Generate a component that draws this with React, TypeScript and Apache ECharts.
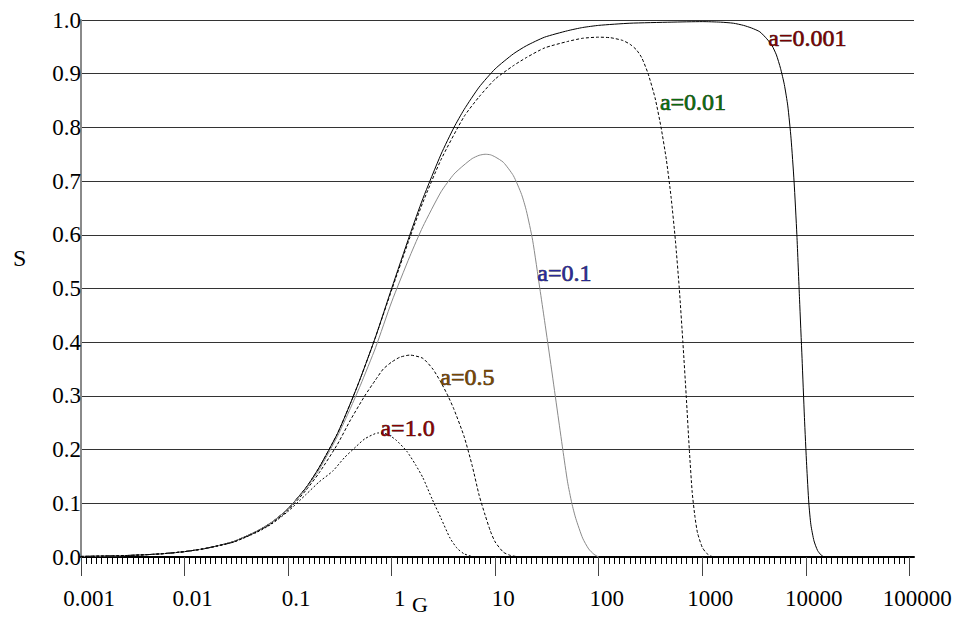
import React, { useEffect, useRef } from 'react';
import * as echarts from 'echarts';

// ---- data ----
const xTickLabels = ['0.001', '0.01', '0.1', '1', '10', '100', '1000', '10000', '100000'];

const seriesNames = ['a=0.001', 'a=0.01', 'a=0.1', 'a=0.5', 'a=1.0'];

const G1 = [0.001, 0.002, 0.003, 0.005, 0.007, 0.01, 0.015, 0.02, 0.03, 0.05, 0.07, 0.1, 0.15, 0.2, 0.3, 0.4, 0.5, 0.7, 1, 1.5, 2, 3, 4, 5, 7, 10, 15, 20, 30, 50, 70, 100, 200, 500, 1000, 1500, 2000, 2500, 3000, 3600, 4200, 4700, 5200, 5700, 6200, 6700, 7200, 7700, 8200, 8700, 9200, 9700, 10200, 10700, 11200, 12000, 13000, 14000, 15000];
const S1 = [0.001, 0.002, 0.003, 0.005, 0.007, 0.01, 0.015, 0.02, 0.029, 0.048, 0.065, 0.09, 0.13, 0.167, 0.23, 0.286, 0.333, 0.41, 0.5, 0.6, 0.667, 0.75, 0.8, 0.833, 0.875, 0.909, 0.937, 0.952, 0.968, 0.98, 0.986, 0.99, 0.994, 0.996, 0.997, 0.996, 0.994, 0.99, 0.985, 0.978, 0.965, 0.953, 0.935, 0.91, 0.88, 0.84, 0.78, 0.7, 0.6, 0.48, 0.37, 0.26, 0.17, 0.1, 0.06, 0.03, 0.012, 0.004, 0];

const G2 = [0.001, 0.002, 0.003, 0.005, 0.007, 0.01, 0.015, 0.02, 0.03, 0.05, 0.07, 0.1, 0.15, 0.2, 0.3, 0.4, 0.5, 0.7, 1, 1.5, 2, 3, 5, 7, 10, 15, 20, 30, 50, 70, 100, 130, 170, 200, 230, 260, 300, 350, 400, 450, 500, 550, 600, 650, 700, 750, 800, 850, 900, 1000, 1100, 1200, 1300];
const S2 = [0.001, 0.002, 0.003, 0.005, 0.007, 0.01, 0.015, 0.02, 0.029, 0.048, 0.065, 0.09, 0.13, 0.167, 0.23, 0.286, 0.333, 0.41, 0.497, 0.595, 0.66, 0.74, 0.82, 0.857, 0.89, 0.915, 0.93, 0.948, 0.96, 0.966, 0.968, 0.967, 0.962, 0.955, 0.945, 0.93, 0.9, 0.855, 0.8, 0.74, 0.67, 0.59, 0.5, 0.4, 0.3, 0.2, 0.12, 0.075, 0.045, 0.018, 0.007, 0.002, 0];

const G3 = [0.001, 0.002, 0.003, 0.005, 0.007, 0.01, 0.015, 0.02, 0.03, 0.05, 0.07, 0.1, 0.15, 0.2, 0.3, 0.4, 0.5, 0.7, 1, 1.5, 2, 3, 4, 5, 6, 7, 8, 9, 10, 12, 15, 18, 20, 23, 27, 30, 35, 40, 45, 50, 55, 60, 70, 80, 90, 100];
const S3 = [0.001, 0.002, 0.003, 0.005, 0.007, 0.01, 0.015, 0.02, 0.029, 0.048, 0.065, 0.09, 0.128, 0.163, 0.225, 0.277, 0.32, 0.39, 0.475, 0.56, 0.615, 0.68, 0.713, 0.73, 0.742, 0.748, 0.75, 0.749, 0.745, 0.735, 0.71, 0.675, 0.645, 0.59, 0.5, 0.44, 0.35, 0.27, 0.2, 0.14, 0.1, 0.072, 0.035, 0.015, 0.005, 0];

const G4 = [0.001, 0.002, 0.003, 0.005, 0.007, 0.01, 0.015, 0.02, 0.03, 0.05, 0.07, 0.1, 0.15, 0.2, 0.3, 0.4, 0.55, 0.7, 0.83, 1, 1.2, 1.5, 2, 2.5, 3, 3.5, 4, 5, 6, 7, 8, 9, 10, 12, 14, 17];
const S4 = [0.001, 0.002, 0.003, 0.005, 0.007, 0.01, 0.015, 0.02, 0.028, 0.047, 0.063, 0.087, 0.125, 0.157, 0.21, 0.255, 0.3, 0.33, 0.35, 0.363, 0.372, 0.376, 0.37, 0.35, 0.325, 0.3, 0.275, 0.225, 0.17, 0.115, 0.078, 0.048, 0.028, 0.009, 0.003, 0];

const G5 = [0.001, 0.002, 0.003, 0.005, 0.007, 0.01, 0.015, 0.02, 0.03, 0.05, 0.07, 0.1, 0.15, 0.2, 0.27, 0.35, 0.45, 0.55, 0.74, 0.9, 1.1, 1.4, 1.7, 2, 2.46, 3, 3.67, 4.3, 5, 6, 7];
const S5 = [0.001, 0.002, 0.003, 0.005, 0.007, 0.01, 0.015, 0.02, 0.028, 0.046, 0.062, 0.085, 0.117, 0.14, 0.16, 0.185, 0.205, 0.22, 0.231, 0.229, 0.218, 0.197, 0.172, 0.148, 0.108, 0.072, 0.035, 0.016, 0.006, 0.001, 0];

// annotation anchors (G, S) and colours
const labelG = [4350, 390, 25.5, 2.95, 0.78];
const labelS = [0.966, 0.847, 0.529, 0.335, 0.241];
const labelColors = ['#7a0000', '#0a6a0a', '#2a2a9a', '#7a4500', '#8a0000'];

const SERIES_G = [G1, G2, G3, G4, G5];
const SERIES_S = [S1, S2, S3, S4, S5];
const lineStyles = [
  { color: '#000', width: 1, type: 'solid' },
  { color: '#000', width: 1, type: [3, 2] },
  { color: '#8a8a8a', width: 1, type: 'solid' },
  { color: '#000', width: 1, type: [3, 2] },
  { color: '#000', width: 1, type: [2, 2] },
];

const FONT = 'Liberation Serif';

export default function App() {
  const ref = useRef<HTMLDivElement>(null);
  useEffect(() => {
    if (!ref.current) return;
    const chart = echarts.init(ref.current, undefined, { renderer: 'svg' });
    const decades = xTickLabels.map((s) => Math.round(Math.log10(parseFloat(s))));
    const series = SERIES_G.map((gArr, i) => ({
      type: 'line',
      name: seriesNames[i],
      data: gArr.map((g, j) => [Math.log10(g), SERIES_S[i][j]]),
      showSymbol: false,
      symbol: 'none',
      smooth: 0.2,
      lineStyle: lineStyles[i],
      z: 3,
      markPoint: {
        symbol: 'circle',
        symbolSize: 0,
        silent: true,
        data: [
          {
            coord: [Math.log10(labelG[i]), labelS[i]],
            label: {
              show: true,
              position: [0, 0],
              align: 'left',
              verticalAlign: 'middle',
              formatter: seriesNames[i],
              fontFamily: FONT,
              fontSize: 24,
              color: labelColors[i],
              textBorderColor: 'rgba(0,0,0,0.85)',
              textBorderWidth: 0.7,
            },
          },
        ],
      },
    }));
    chart.setOption({
      animation: false,
      backgroundColor: '#fff',
      textStyle: { fontFamily: FONT },
      grid: { left: 81, top: 20, width: 833, height: 537, containLabel: false },
      xAxis: {
        type: 'value',
        min: -3,
        max: 5.045,
        interval: 1,
        axisLine: { show: true, onZero: true, lineStyle: { color: '#000', width: 2 } },
        axisTick: {
          show: true,
          customValues: decades,
          length: 19,
          lineStyle: { color: '#444', width: 1 },
        },
        minorTick: { show: true, splitNumber: 20, length: 7, lineStyle: { color: '#000', width: 1 } },
        axisLabel: {
          customValues: decades,
          formatter: (v: number) => xTickLabels[Math.round(v) + 3] ?? '',
          fontFamily: FONT,
          fontSize: 23,
          color: '#000',
          margin: 30,
          padding: [0, 0, 0, 16],
        },
        splitLine: { show: false },
        minorSplitLine: { show: false },
      },
      yAxis: {
        type: 'value',
        min: 0,
        max: 1,
        interval: 0.1,
        axisLine: { show: true, onZero: false, lineStyle: { color: '#8a8a8a', width: 2 } },
        axisTick: { show: false },
        axisLabel: {
          formatter: (v: number) => v.toFixed(1),
          fontFamily: FONT,
          fontSize: 23,
          color: '#000',
          margin: 0,
          padding: [7, 0, 0, 0],
        },
        splitLine: { show: true, lineStyle: { color: '#333', width: 1 } },
      },
      graphic: [
        {
          type: 'text',
          left: 13,
          top: 246,
          style: { text: 'S', fontFamily: FONT, fontSize: 24, fill: '#000' },
        },
        {
          type: 'text',
          left: 412,
          top: 593,
          style: { text: 'G', fontFamily: FONT, fontSize: 22, fill: '#000' },
        },
      ],
      series,
    });
    return () => chart.dispose();
  }, []);
  return (
    <div
      ref={ref}
      style={{ position: 'fixed', left: 0, top: 0, width: 959, height: 618, background: '#fff' }}
    />
  );
}
